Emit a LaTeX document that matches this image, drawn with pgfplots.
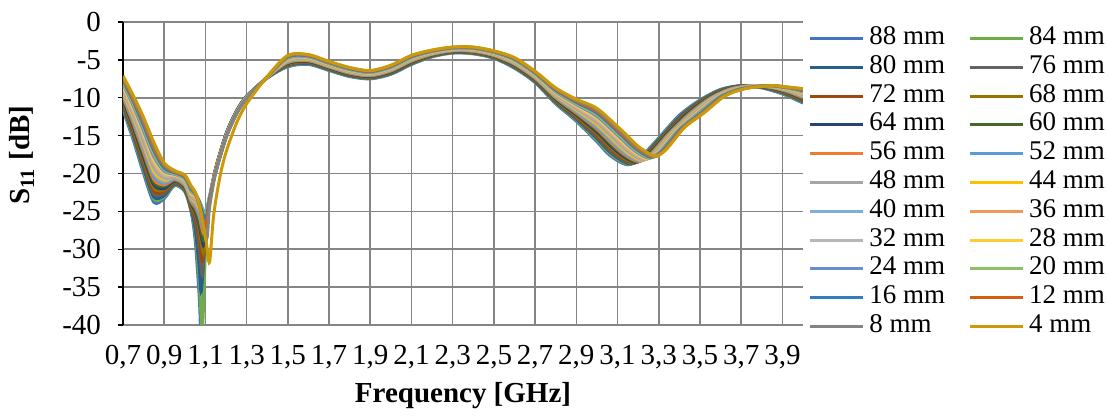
\documentclass[border=0pt]{standalone}
\usepackage{fontspec}
\setmainfont{Liberation Serif}
\usepackage{pgfplots}
\pgfplotsset{compat=1.18}
\definecolor{gridgray}{HTML}{858585}
\definecolor{c88}{HTML}{4472C4}
\definecolor{c84}{HTML}{70AD47}
\definecolor{c80}{HTML}{255E91}
\definecolor{c76}{HTML}{636363}
\definecolor{c72}{HTML}{9E480E}
\definecolor{c68}{HTML}{997300}
\definecolor{c64}{HTML}{264478}
\definecolor{c60}{HTML}{43682B}
\definecolor{c56}{HTML}{ED7D31}
\definecolor{c52}{HTML}{5B9BD5}
\definecolor{c48}{HTML}{A5A5A5}
\definecolor{c44}{HTML}{FFC000}
\definecolor{c40}{HTML}{7CAFDD}
\definecolor{c36}{HTML}{F1975A}
\definecolor{c32}{HTML}{B7B7B7}
\definecolor{c28}{HTML}{FFCD33}
\definecolor{c24}{HTML}{698ED0}
\definecolor{c20}{HTML}{8CC168}
\definecolor{c16}{HTML}{327DC2}
\definecolor{c12}{HTML}{D26012}
\definecolor{c8}{HTML}{848484}
\definecolor{c4}{HTML}{CC9A06}
\begin{document}
\begin{tikzpicture}
\begin{axis}[
  name=ax,
  scale only axis, width=340pt, height=151.5pt,
  xmin=0.7, xmax=4.0, ymin=-40, ymax=0,
  axis x line*=bottom, axis y line*=left,
  x axis line style={-, draw=gridgray, line width=0.8pt},
  y axis line style={-, draw=black, line width=1.1pt},
  xtick={0.7,0.9,1.1,1.3,1.5,1.7,1.9,2.1,2.3,2.5,2.7,2.9,3.1,3.3,3.5,3.7,3.9},
  xticklabels={{0,7},{0,9},{1,1},{1,3},{1,5},{1,7},{1,9},{2,1},{2,3},{2,5},{2,7},{2,9},{3,1},{3,3},{3,5},{3,7},{3,9}},
  ytick={-40,-35,-30,-25,-20,-15,-10,-5,0},
  yticklabels={-40,-35,-30,-25,-20,-15,-10,-5,0},
  xmajorgrids, ymajorgrids,
  grid style={draw=gridgray, line width=0.8pt},
  tick align=outside, major tick length=2.5pt,
  x tick style={draw=none},
  y tick style={draw=black, line width=0.7pt},
  ticklabel style={font=\fontsize{14.5}{16}\selectfont},
  xticklabel style={yshift=-4pt},
  yticklabel style={xshift=-5pt},
  xlabel={\textbf{Frequency [GHz]}},
  ylabel={\textbf{S\textsubscript{11} [dB]}},
  label style={font=\fontsize{14.5}{16}\selectfont},
  xlabel style={at={(axis description cs:0.5,0)}, anchor=center, yshift=-35.5pt},
  ylabel style={at={(axis description cs:-0.1485,0.561)}, anchor=center},
  legend columns=2,
  legend cell align=left,
  legend style={draw=none, fill=none, at={(1,1)}, anchor=north west, xshift=2.5pt, yshift=-0.8pt,
    inner sep=0pt, font=\fontsize{13.5}{15}\selectfont, column sep=0pt, row sep=0pt,
    nodes={inner xsep=2.5pt, inner ysep=1.2pt, text height=9pt, text depth=3pt},
    /tikz/every even column/.append style={column sep=9pt}},
  legend image code/.code={\draw[#1] (0pt,0pt) -- (26.5pt,0pt);},
  every axis plot/.append style={line width=1.5pt, smooth, tension=0.5},
  legend entries={88 mm,84 mm,80 mm,76 mm,72 mm,68 mm,64 mm,60 mm,56 mm,52 mm,48 mm,44 mm,40 mm,36 mm,32 mm,28 mm,24 mm,20 mm,16 mm,12 mm,8 mm,4 mm},
]
\addplot[c88] coordinates {(0.70,-11.6)(0.75,-15.6)(0.80,-20.0)(0.85,-23.8)(0.90,-23.3)(0.95,-21.6)(1.00,-22.4)(1.03,-25.0)(1.05,-28.7)(1.07,-36.2)(1.08,-41.0)(1.10,-28.8)(1.12,-23.5)(1.15,-19.3)(1.20,-14.8)(1.25,-11.8)(1.30,-9.8)(1.40,-7.4)(1.50,-5.9)(1.60,-5.6)(1.70,-6.4)(1.80,-7.2)(1.90,-7.5)(2.00,-6.9)(2.10,-5.6)(2.20,-4.6)(2.30,-4.1)(2.40,-4.2)(2.50,-4.8)(2.60,-6.1)(2.70,-8.0)(2.80,-10.8)(2.90,-13.1)(3.00,-15.8)(3.05,-17.3)(3.10,-18.3)(3.15,-18.85)(3.20,-18.2)(3.25,-16.8)(3.30,-15.3)(3.40,-12.3)(3.50,-10.3)(3.60,-8.9)(3.70,-8.4)(3.80,-8.7)(3.90,-9.5)(4.00,-10.7)};
\addplot[c84] coordinates {(0.70,-11.4)(0.75,-15.3)(0.80,-19.6)(0.85,-23.4)(0.90,-23.1)(0.95,-21.5)(1.00,-22.3)(1.03,-24.8)(1.05,-27.9)(1.07,-34.2)(1.085,-40.5)(1.10,-30.5)(1.12,-23.5)(1.15,-19.3)(1.20,-14.8)(1.25,-11.8)(1.30,-9.8)(1.40,-7.39)(1.50,-5.83)(1.60,-5.54)(1.70,-6.34)(1.80,-7.14)(1.90,-7.45)(2.00,-6.84)(2.10,-5.54)(2.20,-4.56)(2.30,-4.06)(2.40,-4.16)(2.50,-4.75)(2.60,-6.03)(2.70,-7.93)(2.80,-10.70)(2.90,-12.96)(3.00,-15.59)(3.053,-17.16)(3.105,-18.21)(3.156,-18.80)(3.206,-18.14)(3.256,-16.73)(3.306,-15.23)(3.406,-12.29)(3.506,-10.28)(3.606,-8.90)(3.707,-8.40)(3.806,-8.70)(3.903,-9.46)(4.00,-10.61)};
\addplot[c80] coordinates {(0.70,-11.2)(0.75,-15.0)(0.80,-19.3)(0.85,-23.1)(0.90,-22.9)(0.95,-21.4)(1.00,-22.2)(1.03,-24.7)(1.05,-27.2)(1.07,-32.3)(1.08,-35.5)(1.10,-28.0)(1.12,-23.5)(1.15,-19.4)(1.20,-14.8)(1.25,-11.8)(1.30,-9.8)(1.40,-7.38)(1.50,-5.76)(1.60,-5.48)(1.70,-6.29)(1.80,-7.09)(1.90,-7.40)(2.00,-6.79)(2.10,-5.49)(2.20,-4.51)(2.30,-4.02)(2.40,-4.11)(2.50,-4.70)(2.60,-5.97)(2.70,-7.86)(2.80,-10.60)(2.90,-12.82)(3.00,-15.38)(3.057,-17.01)(3.110,-18.12)(3.162,-18.74)(3.212,-18.09)(3.262,-16.67)(3.312,-15.16)(3.411,-12.27)(3.511,-10.25)(3.611,-8.89)(3.714,-8.40)(3.812,-8.69)(3.907,-9.42)(4.00,-10.52)};
\addplot[c76] coordinates {(0.70,-11.0)(0.75,-14.8)(0.80,-18.9)(0.85,-22.7)(0.90,-22.6)(0.95,-21.3)(1.00,-22.1)(1.03,-24.5)(1.05,-26.3)(1.07,-29.9)(1.085,-33.5)(1.10,-28.0)(1.12,-23.5)(1.15,-19.4)(1.20,-14.9)(1.25,-11.9)(1.30,-9.8)(1.40,-7.37)(1.50,-5.69)(1.60,-5.41)(1.70,-6.23)(1.80,-7.03)(1.90,-7.34)(2.00,-6.73)(2.10,-5.43)(2.20,-4.47)(2.30,-3.99)(2.40,-4.07)(2.50,-4.66)(2.60,-5.90)(2.70,-7.79)(2.80,-10.50)(2.90,-12.69)(3.00,-15.17)(3.060,-16.87)(3.114,-18.03)(3.169,-18.69)(3.219,-18.03)(3.269,-16.60)(3.319,-15.09)(3.417,-12.26)(3.517,-10.23)(3.617,-8.89)(3.721,-8.40)(3.819,-8.69)(3.910,-9.39)(4.00,-10.43)};
\addplot[c72] coordinates {(0.70,-10.7)(0.75,-14.5)(0.80,-18.6)(0.85,-22.3)(0.90,-22.4)(0.95,-21.2)(1.00,-22.0)(1.03,-24.4)(1.05,-25.8)(1.07,-28.6)(1.085,-31.5)(1.10,-27.3)(1.12,-23.5)(1.15,-19.4)(1.20,-14.9)(1.25,-11.9)(1.30,-9.9)(1.40,-7.36)(1.50,-5.61)(1.60,-5.35)(1.70,-6.17)(1.80,-6.97)(1.90,-7.29)(2.00,-6.67)(2.10,-5.37)(2.20,-4.43)(2.30,-3.95)(2.40,-4.03)(2.50,-4.61)(2.60,-5.83)(2.70,-7.71)(2.80,-10.40)(2.90,-12.55)(3.00,-14.96)(3.063,-16.73)(3.119,-17.94)(3.175,-18.63)(3.225,-17.97)(3.275,-16.53)(3.325,-15.01)(3.423,-12.24)(3.523,-10.20)(3.623,-8.88)(3.729,-8.40)(3.825,-8.68)(3.913,-9.35)(4.00,-10.34)};
\addplot[c68] coordinates {(0.70,-10.5)(0.75,-14.2)(0.80,-18.2)(0.85,-21.9)(0.90,-22.2)(0.95,-21.1)(1.00,-21.9)(1.03,-24.2)(1.05,-25.3)(1.07,-27.5)(1.09,-30.5)(1.10,-28.0)(1.12,-23.5)(1.15,-19.4)(1.20,-14.9)(1.25,-11.9)(1.30,-9.9)(1.40,-7.35)(1.50,-5.54)(1.60,-5.29)(1.70,-6.11)(1.80,-6.91)(1.90,-7.24)(2.00,-6.61)(2.10,-5.31)(2.20,-4.39)(2.30,-3.91)(2.40,-3.99)(2.50,-4.56)(2.60,-5.77)(2.70,-7.64)(2.80,-10.30)(2.90,-12.41)(3.00,-14.75)(3.067,-16.59)(3.124,-17.85)(3.181,-18.58)(3.231,-17.91)(3.281,-16.47)(3.331,-14.94)(3.429,-12.23)(3.529,-10.18)(3.629,-8.88)(3.736,-8.40)(3.831,-8.68)(3.917,-9.31)(4.00,-10.25)};
\addplot[c64] coordinates {(0.70,-10.3)(0.75,-13.9)(0.80,-17.9)(0.85,-21.5)(0.90,-22.0)(0.95,-21.0)(1.00,-21.8)(1.03,-24.0)(1.05,-25.0)(1.07,-26.9)(1.09,-29.5)(1.10,-27.6)(1.12,-23.5)(1.15,-19.5)(1.20,-14.9)(1.25,-11.9)(1.30,-9.9)(1.40,-7.34)(1.50,-5.47)(1.60,-5.23)(1.70,-6.06)(1.80,-6.86)(1.90,-7.19)(2.00,-6.56)(2.10,-5.26)(2.20,-4.34)(2.30,-3.87)(2.40,-3.94)(2.50,-4.51)(2.60,-5.70)(2.70,-7.57)(2.80,-10.20)(2.90,-12.27)(3.00,-14.54)(3.070,-16.44)(3.129,-17.76)(3.187,-18.52)(3.237,-17.86)(3.287,-16.40)(3.337,-14.87)(3.434,-12.21)(3.534,-10.16)(3.634,-8.87)(3.743,-8.40)(3.837,-8.67)(3.920,-9.27)(4.00,-10.16)};
\addplot[c60] coordinates {(0.70,-10.1)(0.75,-13.6)(0.80,-17.5)(0.85,-21.2)(0.90,-21.7)(0.95,-20.9)(1.00,-21.7)(1.03,-23.9)(1.05,-24.7)(1.07,-26.5)(1.09,-28.8)(1.10,-27.2)(1.12,-23.5)(1.15,-19.5)(1.20,-15.0)(1.25,-11.9)(1.30,-9.9)(1.40,-7.33)(1.50,-5.40)(1.60,-5.17)(1.70,-6.00)(1.80,-6.80)(1.90,-7.13)(2.00,-6.50)(2.10,-5.20)(2.20,-4.30)(2.30,-3.83)(2.40,-3.90)(2.50,-4.47)(2.60,-5.63)(2.70,-7.50)(2.80,-10.10)(2.90,-12.13)(3.00,-14.33)(3.073,-16.30)(3.133,-17.67)(3.193,-18.47)(3.243,-17.80)(3.293,-16.33)(3.343,-14.80)(3.440,-12.20)(3.540,-10.13)(3.640,-8.87)(3.750,-8.40)(3.843,-8.67)(3.923,-9.23)(4.00,-10.07)};
\addplot[c56] coordinates {(0.70,-9.9)(0.75,-13.4)(0.80,-17.2)(0.85,-20.8)(0.90,-21.5)(0.95,-20.8)(1.00,-21.6)(1.03,-23.7)(1.05,-24.4)(1.07,-25.7)(1.095,-28.0)(1.12,-23.5)(1.15,-19.5)(1.20,-15.0)(1.25,-12.0)(1.30,-9.9)(1.40,-7.32)(1.50,-5.33)(1.60,-5.10)(1.70,-5.94)(1.80,-6.74)(1.90,-7.08)(2.00,-6.44)(2.10,-5.14)(2.20,-4.26)(2.30,-3.80)(2.40,-3.86)(2.50,-4.42)(2.60,-5.57)(2.70,-7.43)(2.80,-10.00)(2.90,-12.00)(3.00,-14.12)(3.077,-16.16)(3.138,-17.58)(3.200,-18.41)(3.250,-17.74)(3.300,-16.27)(3.350,-14.73)(3.446,-12.19)(3.546,-10.11)(3.646,-8.86)(3.757,-8.40)(3.850,-8.66)(3.927,-9.20)(4.00,-9.98)};
\addplot[c52] coordinates {(0.70,-9.7)(0.75,-13.1)(0.80,-16.8)(0.85,-20.4)(0.90,-21.3)(0.95,-20.7)(1.00,-21.5)(1.03,-23.5)(1.05,-24.1)(1.07,-25.4)(1.095,-27.5)(1.12,-23.5)(1.15,-19.6)(1.20,-15.0)(1.25,-12.0)(1.30,-9.9)(1.40,-7.31)(1.50,-5.26)(1.60,-5.04)(1.70,-5.89)(1.80,-6.69)(1.90,-7.03)(2.00,-6.39)(2.10,-5.09)(2.20,-4.21)(2.30,-3.76)(2.40,-3.81)(2.50,-4.37)(2.60,-5.50)(2.70,-7.36)(2.80,-9.90)(2.90,-11.86)(3.00,-13.91)(3.080,-16.01)(3.143,-17.49)(3.206,-18.36)(3.256,-17.69)(3.306,-16.20)(3.356,-14.66)(3.451,-12.17)(3.551,-10.09)(3.651,-8.86)(3.764,-8.40)(3.856,-8.66)(3.930,-9.16)(4.00,-9.89)};
\addplot[c48] coordinates {(0.70,-9.5)(0.75,-12.8)(0.80,-16.5)(0.85,-20.0)(0.90,-21.1)(0.95,-20.6)(1.00,-21.4)(1.03,-23.4)(1.05,-23.9)(1.07,-25.0)(1.095,-27.0)(1.12,-23.5)(1.15,-19.6)(1.20,-15.0)(1.25,-12.0)(1.30,-9.9)(1.40,-7.30)(1.50,-5.19)(1.60,-4.98)(1.70,-5.83)(1.80,-6.63)(1.90,-6.98)(2.00,-6.33)(2.10,-5.03)(2.20,-4.17)(2.30,-3.72)(2.40,-3.77)(2.50,-4.32)(2.60,-5.43)(2.70,-7.29)(2.80,-9.80)(2.90,-11.72)(3.00,-13.70)(3.083,-15.87)(3.148,-17.40)(3.212,-18.30)(3.262,-17.63)(3.312,-16.13)(3.362,-14.59)(3.457,-12.16)(3.557,-10.06)(3.657,-8.85)(3.771,-8.40)(3.862,-8.65)(3.933,-9.12)(4.00,-9.80)};
\addplot[c44] coordinates {(0.70,-9.2)(0.75,-12.5)(0.80,-16.1)(0.85,-19.7)(0.90,-20.8)(0.95,-20.5)(1.00,-21.2)(1.03,-23.2)(1.05,-23.7)(1.07,-24.6)(1.10,-26.5)(1.12,-23.5)(1.15,-19.6)(1.20,-15.1)(1.25,-12.0)(1.30,-10.0)(1.40,-7.30)(1.50,-5.11)(1.60,-4.92)(1.70,-5.77)(1.80,-6.57)(1.90,-6.92)(2.00,-6.27)(2.10,-4.97)(2.20,-4.13)(2.30,-3.68)(2.40,-3.73)(2.50,-4.28)(2.60,-5.37)(2.70,-7.21)(2.80,-9.70)(2.90,-11.58)(3.00,-13.50)(3.087,-15.73)(3.152,-17.30)(3.218,-18.25)(3.268,-17.57)(3.318,-16.07)(3.368,-14.51)(3.463,-12.14)(3.563,-10.04)(3.663,-8.85)(3.779,-8.40)(3.868,-8.65)(3.937,-9.08)(4.00,-9.70)};
\addplot[c40] coordinates {(0.70,-9.0)(0.75,-12.2)(0.80,-15.8)(0.85,-19.3)(0.90,-20.6)(0.95,-20.5)(1.00,-21.1)(1.03,-23.1)(1.05,-23.5)(1.07,-24.3)(1.10,-26.0)(1.12,-23.3)(1.15,-19.6)(1.20,-15.1)(1.25,-12.0)(1.30,-10.0)(1.40,-7.29)(1.50,-5.04)(1.60,-4.86)(1.70,-5.71)(1.80,-6.51)(1.90,-6.87)(2.00,-6.21)(2.10,-4.91)(2.20,-4.09)(2.30,-3.64)(2.40,-3.69)(2.50,-4.23)(2.60,-5.30)(2.70,-7.14)(2.80,-9.60)(2.90,-11.44)(3.00,-13.29)(3.090,-15.59)(3.157,-17.21)(3.224,-18.19)(3.274,-17.51)(3.324,-16.00)(3.374,-14.44)(3.469,-12.13)(3.569,-10.01)(3.669,-8.84)(3.786,-8.40)(3.874,-8.64)(3.940,-9.04)(4.00,-9.61)};
\addplot[c36] coordinates {(0.70,-8.8)(0.75,-12.0)(0.80,-15.4)(0.85,-18.9)(0.90,-20.4)(0.95,-20.4)(1.00,-21.0)(1.03,-22.9)(1.05,-23.3)(1.07,-24.1)(1.10,-25.8)(1.12,-23.2)(1.15,-19.7)(1.20,-15.1)(1.25,-12.0)(1.30,-10.0)(1.40,-7.28)(1.50,-4.97)(1.60,-4.80)(1.70,-5.66)(1.80,-6.46)(1.90,-6.82)(2.00,-6.16)(2.10,-4.86)(2.20,-4.04)(2.30,-3.60)(2.40,-3.64)(2.50,-4.18)(2.60,-5.23)(2.70,-7.07)(2.80,-9.50)(2.90,-11.30)(3.00,-13.08)(3.093,-15.44)(3.162,-17.12)(3.230,-18.14)(3.280,-17.46)(3.330,-15.93)(3.380,-14.37)(3.474,-12.11)(3.574,-9.99)(3.674,-8.84)(3.793,-8.40)(3.880,-8.64)(3.943,-9.00)(4.00,-9.52)};
\addplot[c32] coordinates {(0.70,-8.6)(0.75,-11.7)(0.80,-15.1)(0.85,-18.5)(0.90,-20.2)(0.95,-20.3)(1.00,-20.9)(1.03,-22.7)(1.05,-23.1)(1.07,-23.9)(1.10,-25.5)(1.12,-23.1)(1.15,-19.7)(1.20,-15.1)(1.25,-12.1)(1.30,-10.0)(1.40,-7.27)(1.50,-4.90)(1.60,-4.73)(1.70,-5.60)(1.80,-6.40)(1.90,-6.77)(2.00,-6.10)(2.10,-4.80)(2.20,-4.00)(2.30,-3.57)(2.40,-3.60)(2.50,-4.13)(2.60,-5.17)(2.70,-7.00)(2.80,-9.40)(2.90,-11.17)(3.00,-12.87)(3.097,-15.30)(3.167,-17.03)(3.237,-18.08)(3.287,-17.40)(3.337,-15.87)(3.387,-14.30)(3.480,-12.10)(3.580,-9.97)(3.680,-8.83)(3.800,-8.40)(3.887,-8.63)(3.947,-8.97)(4.00,-9.43)};
\addplot[c28] coordinates {(0.70,-8.4)(0.75,-11.4)(0.80,-14.7)(0.85,-18.2)(0.90,-19.9)(0.95,-20.2)(1.00,-20.8)(1.03,-22.6)(1.05,-22.9)(1.07,-23.7)(1.10,-25.3)(1.12,-23.0)(1.15,-19.7)(1.20,-15.2)(1.25,-12.1)(1.30,-10.0)(1.40,-7.26)(1.50,-4.83)(1.60,-4.67)(1.70,-5.54)(1.80,-6.34)(1.90,-6.71)(2.00,-6.04)(2.10,-4.74)(2.20,-3.96)(2.30,-3.53)(2.40,-3.56)(2.50,-4.09)(2.60,-5.10)(2.70,-6.93)(2.80,-9.30)(2.90,-11.03)(3.00,-12.66)(3.100,-15.16)(3.171,-16.94)(3.243,-18.03)(3.293,-17.34)(3.343,-15.80)(3.393,-14.23)(3.486,-12.09)(3.586,-9.94)(3.686,-8.83)(3.807,-8.40)(3.893,-8.63)(3.950,-8.93)(4.00,-9.34)};
\addplot[c24] coordinates {(0.70,-8.2)(0.75,-11.1)(0.80,-14.4)(0.85,-17.8)(0.90,-19.7)(0.95,-20.1)(1.00,-20.7)(1.03,-22.4)(1.05,-22.8)(1.07,-23.6)(1.10,-25.2)(1.12,-23.0)(1.15,-19.8)(1.20,-15.2)(1.25,-12.1)(1.30,-10.0)(1.40,-7.25)(1.50,-4.76)(1.60,-4.61)(1.70,-5.49)(1.80,-6.29)(1.90,-6.66)(2.00,-5.99)(2.10,-4.69)(2.20,-3.91)(2.30,-3.49)(2.40,-3.51)(2.50,-4.04)(2.60,-5.03)(2.70,-6.86)(2.80,-9.20)(2.90,-10.89)(3.00,-12.45)(3.103,-15.01)(3.176,-16.85)(3.249,-17.97)(3.299,-17.29)(3.349,-15.73)(3.399,-14.16)(3.491,-12.07)(3.591,-9.92)(3.691,-8.82)(3.814,-8.40)(3.899,-8.62)(3.953,-8.89)(4.00,-9.25)};
\addplot[c20] coordinates {(0.70,-8.0)(0.75,-10.8)(0.80,-14.0)(0.85,-17.4)(0.90,-19.5)(0.95,-20.0)(1.00,-20.6)(1.03,-22.3)(1.05,-22.7)(1.07,-23.6)(1.10,-25.5)(1.12,-23.1)(1.15,-19.8)(1.20,-15.2)(1.25,-12.1)(1.30,-10.0)(1.40,-7.24)(1.50,-4.69)(1.60,-4.55)(1.70,-5.43)(1.80,-6.23)(1.90,-6.61)(2.00,-5.93)(2.10,-4.63)(2.20,-3.87)(2.30,-3.45)(2.40,-3.47)(2.50,-3.99)(2.60,-4.97)(2.70,-6.79)(2.80,-9.10)(2.90,-10.75)(3.00,-12.24)(3.107,-14.87)(3.181,-16.76)(3.255,-17.92)(3.305,-17.23)(3.355,-15.67)(3.405,-14.09)(3.497,-12.06)(3.597,-9.90)(3.697,-8.82)(3.821,-8.40)(3.905,-8.62)(3.957,-8.85)(4.00,-9.16)};
\addplot[c16] coordinates {(0.70,-7.7)(0.75,-10.5)(0.80,-13.7)(0.85,-17.0)(0.90,-19.3)(0.95,-19.9)(1.00,-20.5)(1.03,-22.1)(1.05,-22.6)(1.07,-23.7)(1.10,-26.0)(1.12,-23.3)(1.15,-19.8)(1.20,-15.2)(1.25,-12.1)(1.30,-10.1)(1.40,-7.23)(1.50,-4.61)(1.60,-4.49)(1.70,-5.37)(1.80,-6.17)(1.90,-6.56)(2.00,-5.87)(2.10,-4.57)(2.20,-3.83)(2.30,-3.41)(2.40,-3.43)(2.50,-3.94)(2.60,-4.90)(2.70,-6.71)(2.80,-9.00)(2.90,-10.61)(3.00,-12.03)(3.110,-14.73)(3.186,-16.67)(3.261,-17.86)(3.311,-17.17)(3.361,-15.60)(3.411,-14.01)(3.503,-12.04)(3.603,-9.87)(3.703,-8.81)(3.829,-8.40)(3.911,-8.61)(3.960,-8.81)(4.00,-9.07)};
\addplot[c12] coordinates {(0.70,-7.5)(0.75,-10.3)(0.80,-13.3)(0.85,-16.7)(0.90,-19.0)(0.95,-19.8)(1.00,-20.4)(1.03,-21.9)(1.05,-22.6)(1.07,-24.0)(1.10,-27.0)(1.12,-23.8)(1.15,-19.8)(1.20,-15.3)(1.25,-12.2)(1.30,-10.1)(1.40,-7.22)(1.50,-4.54)(1.60,-4.42)(1.70,-5.31)(1.80,-6.11)(1.90,-6.50)(2.00,-5.81)(2.10,-4.51)(2.20,-3.79)(2.30,-3.38)(2.40,-3.39)(2.50,-3.90)(2.60,-4.83)(2.70,-6.64)(2.80,-8.90)(2.90,-10.48)(3.00,-11.82)(3.113,-14.59)(3.190,-16.58)(3.268,-17.81)(3.318,-17.11)(3.368,-15.53)(3.418,-13.94)(3.509,-12.03)(3.609,-9.85)(3.709,-8.81)(3.836,-8.40)(3.918,-8.61)(3.963,-8.78)(4.00,-8.98)};
\addplot[c8] coordinates {(0.70,-7.3)(0.75,-10.0)(0.80,-13.0)(0.85,-16.3)(0.90,-18.8)(0.95,-19.7)(1.00,-20.3)(1.03,-21.8)(1.05,-22.6)(1.07,-24.3)(1.105,-28.7)(1.12,-24.5)(1.15,-19.9)(1.20,-15.3)(1.25,-12.2)(1.30,-10.1)(1.40,-7.21)(1.50,-4.47)(1.60,-4.36)(1.70,-5.26)(1.80,-6.06)(1.90,-6.45)(2.00,-5.76)(2.10,-4.46)(2.20,-3.74)(2.30,-3.34)(2.40,-3.34)(2.50,-3.85)(2.60,-4.77)(2.70,-6.57)(2.80,-8.80)(2.90,-10.34)(3.00,-11.61)(3.117,-14.44)(3.195,-16.49)(3.274,-17.75)(3.324,-17.06)(3.374,-15.47)(3.424,-13.87)(3.514,-12.01)(3.614,-9.82)(3.714,-8.80)(3.843,-8.40)(3.924,-8.60)(3.967,-8.74)(4.00,-8.89)};
\addplot[c4] coordinates {(0.70,-7.1)(0.75,-9.7)(0.80,-12.6)(0.85,-15.9)(0.90,-18.6)(0.95,-19.6)(1.00,-20.2)(1.03,-21.6)(1.05,-22.4)(1.07,-24.0)(1.09,-26.9)(1.105,-29.2)(1.12,-31.7)(1.14,-25.5)(1.17,-20.5)(1.20,-17.2)(1.25,-13.4)(1.30,-10.8)(1.40,-7.2)(1.50,-4.4)(1.60,-4.3)(1.70,-5.2)(1.80,-6.0)(1.90,-6.4)(2.00,-5.7)(2.10,-4.4)(2.20,-3.7)(2.30,-3.3)(2.40,-3.3)(2.50,-3.8)(2.60,-4.7)(2.70,-6.5)(2.80,-8.7)(2.90,-10.2)(3.00,-11.4)(3.12,-14.3)(3.20,-16.4)(3.28,-17.7)(3.33,-17.0)(3.38,-15.4)(3.43,-13.8)(3.52,-12.0)(3.62,-9.8)(3.72,-8.8)(3.85,-8.4)(3.93,-8.6)(3.97,-8.7)(4.00,-8.8)};
\end{axis}
\pgfresetboundingbox
\path[use as bounding box] ([shift={(-61.5pt,-46pt)}]ax.south west) rectangle ([shift={(492.5pt,162.5pt)}]ax.south west);
\end{tikzpicture}
\end{document}
